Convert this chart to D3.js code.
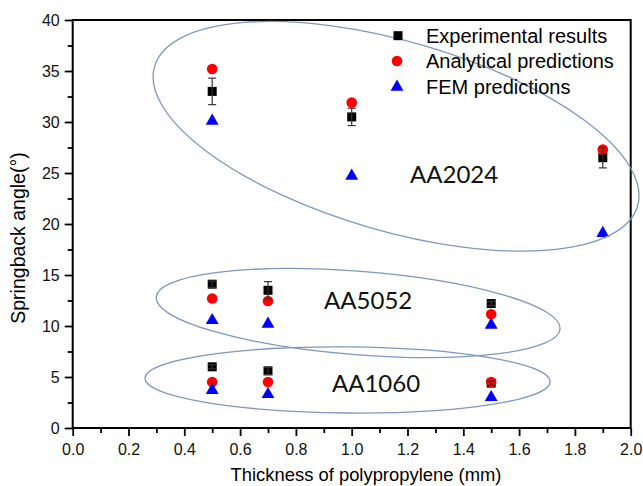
<!DOCTYPE html>
<html>
<head>
<meta charset="utf-8">
<script src="https://cdn.jsdelivr.net/npm/d3@7"></script>
<style>
  html, body { margin: 0; padding: 0; background: #fff; }
  svg { display: block; }
</style>
</head>
<body>
<svg id="chart" width="643" height="486"></svg>
<script>
// ---------- data ----------
const xTicks = [0, 0.2, 0.4, 0.6, 0.8, 1.0, 1.2, 1.4, 1.6, 1.8, 2.0];
const yTicks = [0, 5, 10, 15, 20, 25, 30, 35, 40];

const thicknessAA2024 = [0.5, 1.0, 1.9];
const experimentalAA2024 = [33.0, 30.5, 26.5];
const errorAA2024 = [1.3, 0.85, 1.0];
const analyticalAA2024 = [35.2, 31.9, 27.3];
const femAA2024 = [30.1, 24.7, 19.1];

const thicknessAA5052 = [0.5, 0.7, 1.5];
const experimentalAA5052 = [14.1, 13.5, 12.2];
const errorAA5052 = [0.3, 0.85, 0.2];
const analyticalAA5052 = [12.7, 12.45, 11.15];
const femAA5052 = [10.55, 10.2, 10.1];

const thicknessAA1060 = [0.5, 0.7, 1.5];
const experimentalAA1060 = [6.0, 5.6, 4.4];
const errorAA1060 = [0.2, 0.35, 0.2];
const analyticalAA1060 = [4.5, 4.5, 4.5];
const femAA1060 = [3.7, 3.3, 3.0];

const seriesNames = ["Experimental results", "Analytical predictions", "FEM predictions"];
const groupLabels = ["AA2024", "AA5052", "AA1060"];
// group annotation anchors in data units
const labelX = [1.209, 0.901, 0.929];
const labelY = [24.0, 11.67, 3.53];
// encircling ellipses in data units: centre, semi-axes, rotation (deg)
const ellipseCx = [1.159, 1.023, 0.985];
const ellipseCy = [28.6, 11.27, 4.71];
const ellipseRx = [0.901, 0.726, 0.726];
const ellipseRy = [9.31, 4.09, 3.24];
const ellipseRot = [16.1, 4.5, 0.5];

// ---------- setup ----------
const svg = d3.select("#chart");
const x = d3.scaleLinear().domain([0, 2]).range([72.7, 630.7]);
const y = d3.scaleLinear().domain([0, 40]).range([428, 20]);
const FONT = "'Liberation Sans', Arial, sans-serif";

const groups = [
  {t: thicknessAA2024, e: experimentalAA2024, err: errorAA2024, a: analyticalAA2024, f: femAA2024},
  {t: thicknessAA5052, e: experimentalAA5052, err: errorAA5052, a: analyticalAA5052, f: femAA5052},
  {t: thicknessAA1060, e: experimentalAA1060, err: errorAA1060, a: analyticalAA1060, f: femAA1060}
];
const flat = key => groups.flatMap(g => g.t.map((tv, i) => ({x: tv, y: g[key][i], err: g.err[i]})));

// ---------- axes ----------
const minorX = d3.range(0.1, 2.0, 0.2);
const minorY = d3.range(2.5, 40, 5);

const styleAxis = g => {
  g.select(".domain").remove();
  g.selectAll("line").attr("stroke", "#000").attr("stroke-width", 1.8);
  g.selectAll("text").attr("fill", "#111").style("font-family", FONT).style("font-size", "16px");
};

svg.append("g").attr("transform", `translate(0,${y(0)})`)
  .call(d3.axisBottom(x).tickValues(minorX).tickSize(5).tickFormat(""))
  .call(styleAxis);
svg.append("g").attr("transform", `translate(0,${y(0)})`)
  .call(d3.axisBottom(x).tickValues(xTicks).tickSize(8).tickPadding(8).tickFormat(d3.format(".1f")))
  .call(styleAxis);
svg.append("g").attr("transform", `translate(${x(0)},0)`)
  .call(d3.axisLeft(y).tickValues(minorY).tickSize(5).tickFormat(""))
  .call(styleAxis);
svg.append("g").attr("transform", `translate(${x(0)},0)`)
  .call(d3.axisLeft(y).tickValues(yTicks).tickSize(8).tickPadding(5).tickFormat(d3.format("d")))
  .call(styleAxis);

// frame
svg.append("rect")
  .attr("x", x(0)).attr("y", y(40))
  .attr("width", x(2) - x(0)).attr("height", y(0) - y(40))
  .attr("fill", "none").attr("stroke", "#000").attr("stroke-width", 2);

// axis titles
svg.append("text")
  .attr("x", 366).attr("y", 481)
  .attr("text-anchor", "middle")
  .style("font-family", FONT).style("font-size", "18.4px")
  .text("Thickness of polypropylene (mm)");
svg.append("text")
  .attr("transform", `translate(25,238) rotate(-90)`)
  .attr("text-anchor", "middle")
  .style("font-family", FONT).style("font-size", "19.5px")
  .text("Springback angle(°)");

// ---------- marks ----------
const plot = svg.append("g");
const squareSize = 9;
plot.selectAll("rect.exp").data(flat("e")).join("rect").attr("class", "exp")
  .attr("x", d => x(d.x) - squareSize / 2).attr("y", d => y(d.y) - squareSize / 2)
  .attr("width", squareSize).attr("height", squareSize).attr("fill", "#000");

plot.selectAll("circle.ana").data(flat("a")).join("circle").attr("class", "ana")
  .attr("cx", d => x(d.x)).attr("cy", d => y(d.y)).attr("r", 5.3).attr("fill", "#ff0000");

const tri = d3.symbol().type(d3.symbolTriangle).size(72);
plot.selectAll("path.fem").data(flat("f")).join("path").attr("class", "fem")
  .attr("transform", d => `translate(${x(d.x)},${y(d.y)})`)
  .attr("d", tri).attr("fill", "#0000ff");

// error bars (drawn on top)
const eb = plot.selectAll("g.err").data(flat("e")).join("g").attr("class", "err")
  .attr("stroke", "#333").attr("stroke-width", 1.2);
eb.append("line")
  .attr("x1", d => x(d.x)).attr("x2", d => x(d.x))
  .attr("y1", d => y(d.y + d.err)).attr("y2", d => y(d.y - d.err));
eb.append("line")
  .attr("x1", d => x(d.x) - 4).attr("x2", d => x(d.x) + 4)
  .attr("y1", d => y(d.y + d.err)).attr("y2", d => y(d.y + d.err));
eb.append("line")
  .attr("x1", d => x(d.x) - 4).attr("x2", d => x(d.x) + 4)
  .attr("y1", d => y(d.y - d.err)).attr("y2", d => y(d.y - d.err));

// ---------- ellipses ----------
groupLabels.forEach((lab, i) => {
  const cx = x(ellipseCx[i]), cy = y(ellipseCy[i]);
  svg.append("ellipse")
    .attr("cx", 0).attr("cy", 0)
    .attr("rx", x(ellipseRx[i]) - x(0))
    .attr("ry", y(0) - y(ellipseRy[i]))
    .attr("transform", `translate(${cx},${cy}) rotate(${ellipseRot[i]})`)
    .attr("fill", "none").attr("stroke", "#7f98bd").attr("stroke-width", 1.3);
  svg.append("text")
    .attr("x", x(labelX[i])).attr("y", y(labelY[i]))
    .style("font-family", "Lato, 'Open Sans', sans-serif").style("font-size", "24px")
    .attr("fill", "#111")
    .text(lab);
});

// ---------- legend ----------
const legX = 398, legTextX = 426, legRows = [35.7, 61, 87];
const leg = svg.append("g");
leg.append("rect").attr("x", legX - 4.5).attr("y", legRows[0] - 4.5)
  .attr("width", 9).attr("height", 9).attr("fill", "#000");
leg.append("circle").attr("cx", legX - 1).attr("cy", legRows[1]).attr("r", 5.3).attr("fill", "#ff0000");
leg.append("path").attr("transform", `translate(${legX - 1},${legRows[2]})`).attr("d", tri).attr("fill", "#0000ff");
seriesNames.forEach((s, i) => {
  leg.append("text").attr("x", legTextX).attr("y", legRows[i]).attr("dy", "0.36em")
    .style("font-family", FONT).style("font-size", "20px").text(s);
});
</script>
</body>
</html>
